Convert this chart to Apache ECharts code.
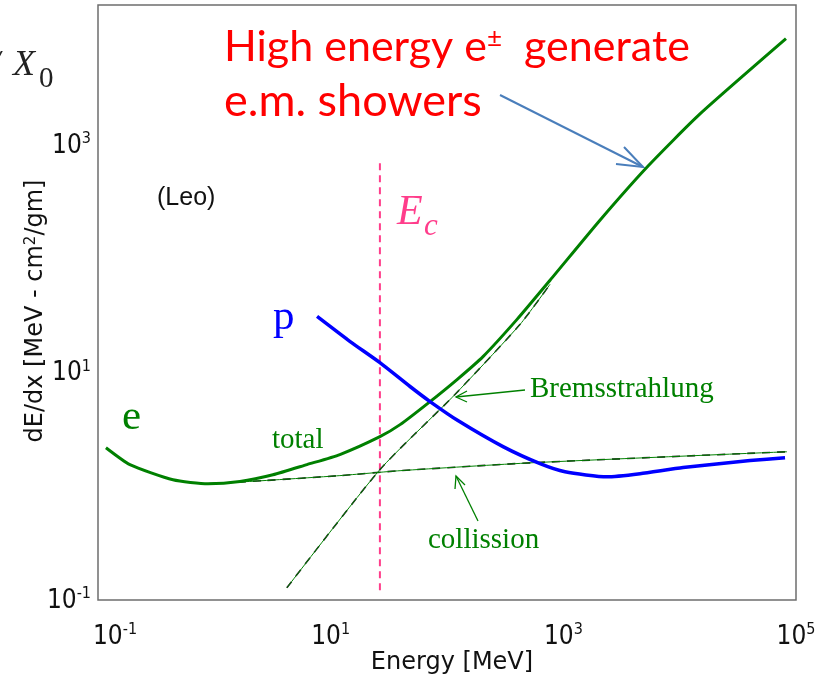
<!DOCTYPE html>
<html><head><meta charset="utf-8">
<script src="https://cdn.jsdelivr.net/npm/echarts@6/dist/echarts.min.js"></script>
<style>html,body{margin:0;padding:0;background:#fff}#c{width:825px;height:689px}</style>
</head><body><div id="c"></div>
<script>
// ---- data (energy in MeV, dE/dx in MeV cm^2/g) ----
const xTickExps = [-1, 1, 3, 5];
const yTickExps = [-1, 1, 3];

const totalE = [0.117, 0.188, 0.441, 0.883, 1.66, 3.19, 6.26, 12.0, 26.5, 39.5, 71.5, 122, 204, 400, 769, 2065, 5350, 14960, 82000];
const totalV = [2.18, 1.55, 1.14, 1.05, 1.10, 1.26, 1.55, 1.90, 2.73, 3.48, 5.55, 8.67, 13.8, 29.3, 64.7, 218, 653, 1875, 8600];

const collE = [0.88, 2.62, 12.0, 39.5, 548, 83700];
const collV = [1.05, 1.12, 1.24, 1.37, 1.61, 2.01];

const bremE = [4.2, 26.5, 117, 425, 769];
const bremV = [0.128, 1.40, 6.4, 26.5, 59.6];

const protE = [7.64, 14.7, 26.5, 48.1, 71.5, 124, 303, 631, 1034, 2370, 4560, 10700, 40300, 80500];
const protV = [31.1, 18.7, 12.2, 7.53, 5.55, 3.78, 2.23, 1.58, 1.34, 1.21, 1.29, 1.46, 1.68, 1.78];

const ecE = [26.5, 26.5];
const ecV = [0.122, 723];

const zip = (a, b) => a.map((v, i) => [v, b[i]]);

const chart = echarts.init(document.getElementById('c'));
const GREEN = '#008000', BLUE = '#0000ff', PINK = '#ff3d8b';
const tickFont = "'Liberation Sans Narrow', 'DejaVu Sans Condensed', 'Liberation Sans'";
const supFmt = (exps, shiftFirst) => v => {
  const e = Math.log10(v), r = Math.round(e);
  if (Math.abs(e - r) > 0.01 || exps.indexOf(r) < 0) return '';
  return (shiftFirst && r === exps[0] ? '{b0|10}' : '{b|10}') + '{s|' + r + '}';
};
const baseTok = {fontSize: 26, lineHeight: 28, verticalAlign: 'bottom', fontFamily: tickFont, color: '#111'};
const rich = {
  b: baseTok,
  b0: Object.assign({}, baseTok, {padding: [0, 0, 0, 34]}),
  s: {fontSize: 16, lineHeight: 14, verticalAlign: 'top', fontFamily: tickFont, color: '#111'}
};

const serif = 'Liberation Serif';
const gfont = 'DejaVu Sans';
const sm = 0.2;
chart.setOption({
  animation: false,
  grid: {left: 98, right: 29, top: 5, bottom: 89, show: true, borderColor: '#6e6e6e', borderWidth: 1.5},
  xAxis: {
    type: 'log', logBase: 10, min: 0.1, max: 100000,
    axisLine: {show: false}, axisTick: {show: false}, splitLine: {show: false},
    axisLabel: {formatter: supFmt(xTickExps, true), rich: rich, margin: 22, showMinLabel: true, showMaxLabel: true}
  },
  yAxis: {
    type: 'log', logBase: 10, min: 0.1, max: 17000,
    axisLine: {show: false}, axisTick: {show: false}, splitLine: {show: false},
    axisLabel: {formatter: supFmt(yTickExps, false), rich: rich, margin: 7, showMinLabel: true}
  },
  series: [
    {type: 'line', data: zip(ecE, ecV), symbol: 'none', lineStyle: {color: PINK, width: 2, type: [7, 5]}},
    {type: 'line', data: zip(collE, collV), symbol: 'none', smooth: sm, lineStyle: {color: '#222', width: 1.6, type: [8, 7]}},
    {type: 'line', data: zip(collE, collV), symbol: 'none', smooth: sm, lineStyle: {color: GREEN, width: 1}},
    {type: 'line', data: zip(bremE, bremV), symbol: 'none', smooth: sm, lineStyle: {color: '#222', width: 1.6, type: [8, 7]}},
    {type: 'line', data: zip(bremE, bremV), symbol: 'none', smooth: sm, lineStyle: {color: GREEN, width: 1}},
    {type: 'line', data: zip(totalE, totalV), symbol: 'none', smooth: sm, lineStyle: {color: GREEN, width: 3}},
    {type: 'line', data: zip(protE, protV), symbol: 'none', smooth: sm, lineStyle: {color: BLUE, width: 3.5}}
  ],
  graphic: [
    {type: 'text', x: -10, y: 84, style: {text: '/', fontFamily: serif, fontStyle: 'italic', fontSize: 36, fill: '#222', verticalAlign: 'bottom'}},
    {type: 'text', x: 13, y: 84, style: {text: 'X', fontFamily: serif, fontStyle: 'italic', fontSize: 36, fill: '#222', verticalAlign: 'bottom'}},
    {type: 'text', x: 39, y: 94, style: {text: '0', fontFamily: serif, fontSize: 29, fill: '#222', verticalAlign: 'bottom'}},
    {type: 'text', x: 36, y: 311, rotation: Math.PI / 2,
      style: {text: 'dE/dx [MeV - cm{s|2}/gm]', fontFamily: gfont, fontSize: 24, fill: '#111', align: 'center', verticalAlign: 'middle',
        rich: {s: {fontSize: 15, lineHeight: 12, verticalAlign: 'top', fontFamily: gfont, fill: '#111'}}}},
    {type: 'text', x: 452, y: 663, style: {text: 'Energy [MeV]', fontFamily: gfont, fontSize: 24, fill: '#111', align: 'center', verticalAlign: 'middle'}},
    {type: 'text', x: 157, y: 198, style: {text: '(Leo)', fontFamily: 'Liberation Sans', fontSize: 25, fill: '#111', verticalAlign: 'middle'}},
    {type: 'text', x: 224, y: 47, style: {text: 'High energy e{p|\u00B1}  generate', fontFamily: 'Lato', fontSize: 43, fill: '#ff0000', verticalAlign: 'middle',
      rich: {p: {fontFamily: 'Lato', fontSize: 26, lineHeight: 20, verticalAlign: 'top', fill: '#ff0000'}}}},
    {type: 'text', x: 224, y: 101, style: {text: 'e.m. showers', fontFamily: 'Lato', fontSize: 45, fill: '#ff0000', verticalAlign: 'middle'}},
    {type: 'line', shape: {x1: 500, y1: 95, x2: 643, y2: 167}, style: {stroke: '#4a7ebb', lineWidth: 2}},
    {type: 'polyline', shape: {points: [[624, 147], [643, 167], [616, 164]]}, style: {stroke: '#4a7ebb', lineWidth: 2, fill: null}},
    {type: 'text', x: 397, y: 234, style: {text: 'E', fontFamily: serif, fontStyle: 'italic', fontSize: 42, fill: PINK, verticalAlign: 'bottom'}},
    {type: 'text', x: 424, y: 242, style: {text: 'c', fontFamily: serif, fontStyle: 'italic', fontSize: 31, fill: PINK, verticalAlign: 'bottom'}},
    {type: 'text', x: 273, y: 318, style: {text: 'p', fontFamily: serif, fontSize: 43, fill: BLUE, verticalAlign: 'middle'}},
    {type: 'text', x: 122, y: 418, style: {text: 'e', fontFamily: serif, fontSize: 43, fill: GREEN, verticalAlign: 'middle'}},
    {type: 'text', x: 272, y: 440, style: {text: 'total', fontFamily: serif, fontSize: 29, fill: GREEN, verticalAlign: 'middle'}},
    {type: 'text', x: 530, y: 389, style: {text: 'Bremsstrahlung', fontFamily: serif, fontSize: 29, fill: GREEN, verticalAlign: 'middle'}},
    {type: 'line', shape: {x1: 525, y1: 390, x2: 456, y2: 397}, style: {stroke: GREEN, lineWidth: 1.3}},
    {type: 'polyline', shape: {points: [[467, 391], [456, 397], [467, 402]]}, style: {stroke: GREEN, lineWidth: 1.3, fill: null}},
    {type: 'text', x: 428, y: 540, style: {text: 'collission', fontFamily: serif, fontSize: 29, fill: GREEN, verticalAlign: 'middle'}},
    {type: 'line', shape: {x1: 478, y1: 521, x2: 456, y2: 476}, style: {stroke: GREEN, lineWidth: 1.3}},
    {type: 'polyline', shape: {points: [[455, 489], [456, 476], [465, 485]]}, style: {stroke: GREEN, lineWidth: 1.3, fill: null}}
  ]
});
</script></body></html>
